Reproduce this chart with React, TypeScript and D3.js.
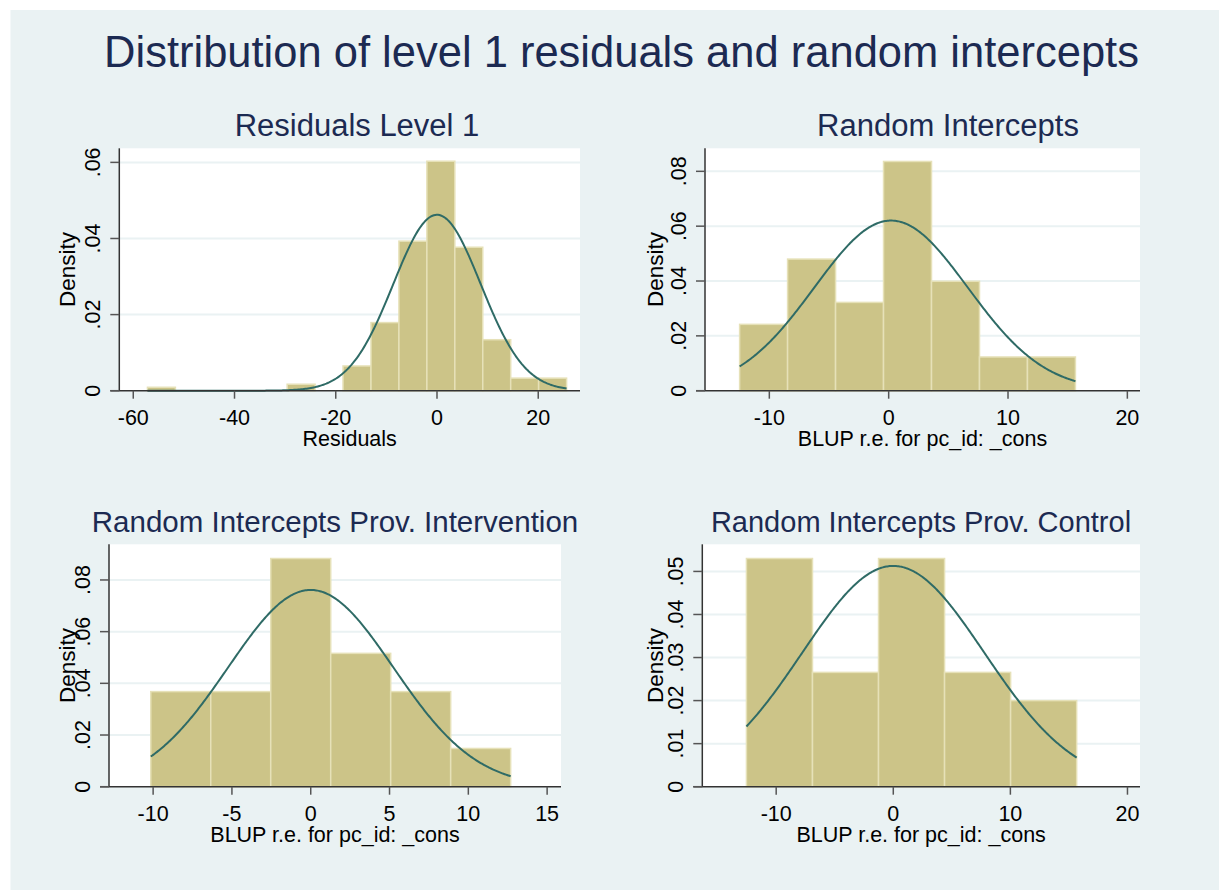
import React from "react";
import * as d3 from "d3";

// ---------- DATA ----------
const mainTitle = "Distribution of level 1 residuals and random intercepts";
const panelTitles = [
  "Residuals Level 1",
  "Random Intercepts",
  "Random Intercepts Prov. Intervention",
  "Random Intercepts Prov. Control",
];
const xAxisTitles = [
  "Residuals",
  "BLUP r.e. for pc_id: _cons",
  "BLUP r.e. for pc_id: _cons",
  "BLUP r.e. for pc_id: _cons",
];
const yAxisTitle = "Density";

// histogram densities (equal-width bins)
const residualDensity = [0.0009, 0, 0, 0, 0, 0.0017, 0, 0.0065, 0.0179, 0.0393, 0.0603, 0.0377, 0.0134, 0.0033, 0.0033];
const residualBinStart = -57.2;
const residualBinWidth = 5.52;

const interceptDensity = [0.0242, 0.048, 0.0322, 0.0836, 0.0399, 0.0123, 0.0123];
const interceptBinStart = -12.49;
const interceptBinWidth = 4.02;

const interventionDensity = [0.0368, 0.0368, 0.0883, 0.0516, 0.0368, 0.0148];
const interventionBinStart = -10.15;
const interventionBinWidth = 3.806;

const controlDensity = [0.053, 0.02655, 0.053, 0.02655, 0.02];
const controlBinStart = -12.54;
const controlBinWidth = 5.64;

// normal overlay parameters (mean, sd)
const normalMeans = [0, 0.2, 0, 0];
const normalSds = [8.63, 6.43, 5.24, 7.78];

// ticks
const xTicks1 = [-60, -40, -20, 0, 20];
const yTicks1 = [0, 0.02, 0.04, 0.06];
const xTicks2 = [-10, 0, 10, 20];
const yTicks2 = [0, 0.02, 0.04, 0.06, 0.08];
const xTicks3 = [-10, -5, 0, 5, 10, 15];
const yTicks3 = [0, 0.02, 0.04, 0.06, 0.08];
const xTicks4 = [-10, 0, 10, 20];
const yTicks4 = [0, 0.01, 0.02, 0.03, 0.04, 0.05];

// ---------- LAYOUT ----------
const W = 1219;
const H = 890;
const FONT = "'Liberation Sans', Arial, Helvetica, sans-serif";
const BG = "#eaf2f3";
const TITLE_COLOR = "#1c2a52";
const BAR_FILL = "#ccc488";
const BAR_STROKE = "#e6e1b8";
const CURVE = "#2f6b66";

const panels = [
  { density: residualDensity, start: residualBinStart, width: residualBinWidth, xTicks: xTicks1, yTicks: yTicks1,
    left: 119.3, right: 580, top: 148.3, bottom: 390.7, xDom: [-62.76, 28.25], yMax: 0.0637,
    titleX: 357, titleY: 136, titleSize: 31, densX: 75 },
  { density: interceptDensity, start: interceptBinStart, width: interceptBinWidth, xTicks: xTicks2, yTicks: yTicks2,
    left: 705, right: 1140, top: 148.3, bottom: 390.7, xDom: [-15.39, 21.06], yMax: 0.0884,
    titleX: 948, titleY: 136, titleSize: 31, densX: 663 },
  { density: interventionDensity, start: interventionBinStart, width: interventionBinWidth, xTicks: xTicks3, yTicks: yTicks3,
    left: 109, right: 561, top: 544.3, bottom: 786.7, xDom: [-12.8, 15.88], yMax: 0.0938,
    titleX: 335, titleY: 532, titleSize: 29.5, densX: 75 },
  { density: controlDensity, start: controlBinStart, width: controlBinWidth, xTicks: xTicks4, yTicks: yTicks4,
    left: 702.3, right: 1140, top: 544.3, bottom: 786.7, xDom: [-16.31, 21.07], yMax: 0.0563,
    titleX: 921, titleY: 532, titleSize: 29, densX: 663 },
];

const fmtY = (v: number) => (v === 0 ? "0" : d3.format(".2f")(v).replace(/^0/, ""));

function normalPdf(x: number, m: number, s: number) {
  return Math.exp(-0.5 * ((x - m) / s) ** 2) / (s * Math.sqrt(2 * Math.PI));
}

function Panel({ p, i }: { p: any; i: number }) {
  const x = d3.scaleLinear().domain(p.xDom).range([p.left, p.right]);
  const y = d3.scaleLinear().domain([0, p.yMax]).range([p.bottom, p.top]);
  const bins = p.density.map((d: number, k: number) => ({ x0: p.start + k * p.width, x1: p.start + (k + 1) * p.width, d }));
  const xmin = p.start;
  const xmax = p.start + p.density.length * p.width;
  const pts = d3.range(0, 301).map((k) => {
    const xv = xmin + ((xmax - xmin) * k) / 300;
    return [xv, normalPdf(xv, normalMeans[i], normalSds[i])] as [number, number];
  });
  const line = d3.line<[number, number]>().x((d) => x(d[0])).y((d) => y(d[1]));
  const midY = (p.top + p.bottom) / 2;
  return (
    <g>
      <rect x={p.left} y={p.top} width={p.right - p.left} height={p.bottom - p.top} fill="#ffffff" />
      {p.yTicks.filter((t: number) => t > 0).map((t: number) => (
        <line key={"g" + t} x1={p.left} x2={p.right} y1={y(t)} y2={y(t)} stroke={BG} strokeWidth={2} />
      ))}
      {bins.filter((b: any) => b.d > 0).map((b: any, k: number) => (
        <rect key={"b" + k} x={x(b.x0)} y={y(b.d)} width={x(b.x1) - x(b.x0)} height={y(0) - y(b.d)}
          fill={BAR_FILL} stroke={BAR_STROKE} strokeWidth={1.5} />
      ))}
      <path d={line(pts) || ""} fill="none" stroke={CURVE} strokeWidth={2} />
      {/* axes */}
      <line x1={p.left} x2={p.left} y1={p.top} y2={p.bottom} stroke="#333" strokeWidth={1.5} />
      <line x1={p.left - 9} x2={p.right} y1={p.bottom} y2={p.bottom} stroke="#333" strokeWidth={1.5} />
      {p.yTicks.map((t: number) => (
        <g key={"yt" + t}>
          <line x1={p.left - 9} x2={p.left} y1={y(t)} y2={y(t)} stroke="#555" strokeWidth={1.5} />
          <text transform={`translate(${p.left - 19.5},${y(t)}) rotate(-90)`} textAnchor="middle"
            fontSize={21.5} fontFamily={FONT} fill="#000">{fmtY(t)}</text>
        </g>
      ))}
      {p.xTicks.map((t: number) => (
        <g key={"xt" + t}>
          <line x1={x(t)} x2={x(t)} y1={p.bottom} y2={p.bottom + 8} stroke="#555" strokeWidth={1.5} />
          <text x={x(t)} y={p.bottom + 34.5} textAnchor="middle" fontSize={21.5} fontFamily={FONT} fill="#000">{t}</text>
        </g>
      ))}
      <text x={(p.left + p.right) / 2} y={p.bottom + 55.5} textAnchor="middle" fontSize={21.5} fontFamily={FONT} fill="#000">
        {xAxisTitles[i]}
      </text>
      <text transform={`translate(${p.densX},${midY}) rotate(-90)`} textAnchor="middle" fontSize={22.5} fontFamily={FONT} fill="#000">
        {yAxisTitle}
      </text>
      <text x={p.titleX} y={p.titleY} textAnchor="middle" fontSize={p.titleSize} fontFamily={FONT} fill={TITLE_COLOR}>
        {panelTitles[i]}
      </text>
    </g>
  );
}

export default function App() {
  return (
    <svg width={W} height={H} style={{ position: "absolute", left: 0, top: 0, display: "block" }}>
      <rect x={0} y={0} width={W} height={H} fill="#ffffff" />
      <rect x={10.5} y={10} width={W - 10.5} height={H - 10} fill={BG} />
      <text x={621.5} y={66.7} textAnchor="middle" fontSize={43.5} fontFamily={FONT} fill={TITLE_COLOR}>
        {mainTitle}
      </text>
      {panels.map((p, i) => (
        <Panel key={i} p={p} i={i} />
      ))}
    </svg>
  );
}
